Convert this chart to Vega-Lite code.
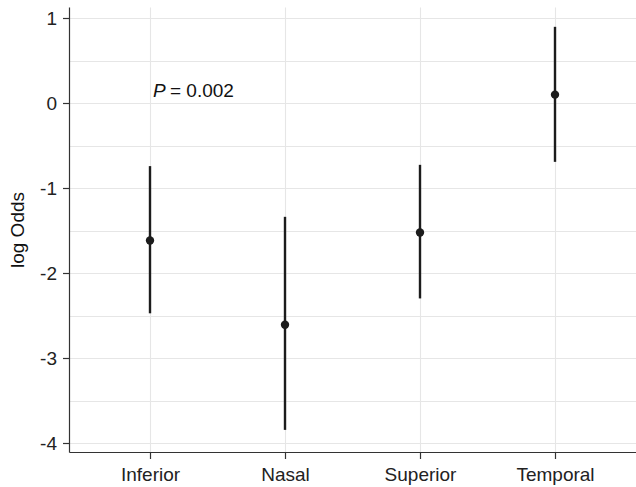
{
  "$schema": "https://vega.github.io/schema/vega-lite/v6.json",
  "autosize": {"type": "none"},
  "width": 567,
  "height": 445,
  "padding": {"left": 69, "top": 7, "right": 0, "bottom": 35},
  "background": "white",
  "config": {
    "view": {"stroke": null},
    "font": "Liberation Sans",
    "axis": {
      "labelFont": "Liberation Sans",
      "titleFont": "Liberation Sans",
      "labelFontSize": 19,
      "titleFontSize": 19,
      "titleFontWeight": "normal",
      "labelColor": "#222222",
      "titleColor": "#111111",
      "domainColor": "#333333",
      "domainWidth": 1.2,
      "tickColor": "#333333",
      "tickWidth": 1.2,
      "tickSize": 6.5,
      "gridColor": "#e6e6e6",
      "gridWidth": 1.1
    }
  },
  "datasets": {
    "est": [
      {"site": "Inferior", "estimate": -1.614, "lower": -2.47, "upper": -0.74},
      {"site": "Nasal", "estimate": -2.605, "lower": -3.84, "upper": -1.336},
      {"site": "Superior", "estimate": -1.52, "lower": -2.295, "upper": -0.725},
      {"site": "Temporal", "estimate": 0.10, "lower": -0.69, "upper": 0.897}
    ],
    "note": [
      {"site": "Inferior", "y": 0.074, "italic": "P", "rest": "= 0.002"}
    ]
  },
  "encoding": {
    "x": {
      "field": "site",
      "type": "nominal",
      "sort": ["Inferior", "Nasal", "Superior", "Temporal"],
      "scale": {"type": "point", "padding": 0.6},
      "axis": {
        "title": null,
        "labelAngle": 0,
        "grid": true,
        "labelPadding": 7,
        "domain": true
      }
    }
  },
  "layer": [
    {
      "data": {"name": "est"},
      "mark": {"type": "rule", "strokeWidth": 2.4, "color": "#1c1c1c"},
      "encoding": {
        "y": {
          "field": "lower",
          "type": "quantitative",
          "scale": {"domain": [-4.1, 1.13], "nice": false, "zero": false},
          "axis": {
            "title": "log Odds",
            "values": [-4, -3.5, -3, -2.5, -2, -1.5, -1, -0.5, 0, 0.5, 1],
            "labelExpr": "datum.value % 1 === 0 ? toString(datum.value) : ''",
            "tickOpacity": {"condition": {"test": "datum.value % 1 !== 0", "value": 0}, "value": 1},
            "grid": true,
            "labelPadding": 6,
            "titlePadding": 12
          }
        },
        "y2": {"field": "upper"}
      }
    },
    {
      "data": {"name": "est"},
      "mark": {"type": "point", "filled": true, "size": 70, "color": "#1c1c1c", "opacity": 1},
      "encoding": {
        "y": {"field": "estimate", "type": "quantitative"}
      }
    },
    {
      "data": {"name": "note"},
      "mark": {"type": "text", "align": "left", "baseline": "alphabetic", "dx": 3, "fontSize": 19, "fontStyle": "italic", "color": "#111111"},
      "encoding": {
        "y": {"field": "y", "type": "quantitative"},
        "text": {"field": "italic"}
      }
    },
    {
      "data": {"name": "note"},
      "mark": {"type": "text", "align": "left", "baseline": "alphabetic", "dx": 20, "fontSize": 19, "color": "#111111"},
      "encoding": {
        "y": {"field": "y", "type": "quantitative"},
        "text": {"field": "rest"}
      }
    }
  ]
}
